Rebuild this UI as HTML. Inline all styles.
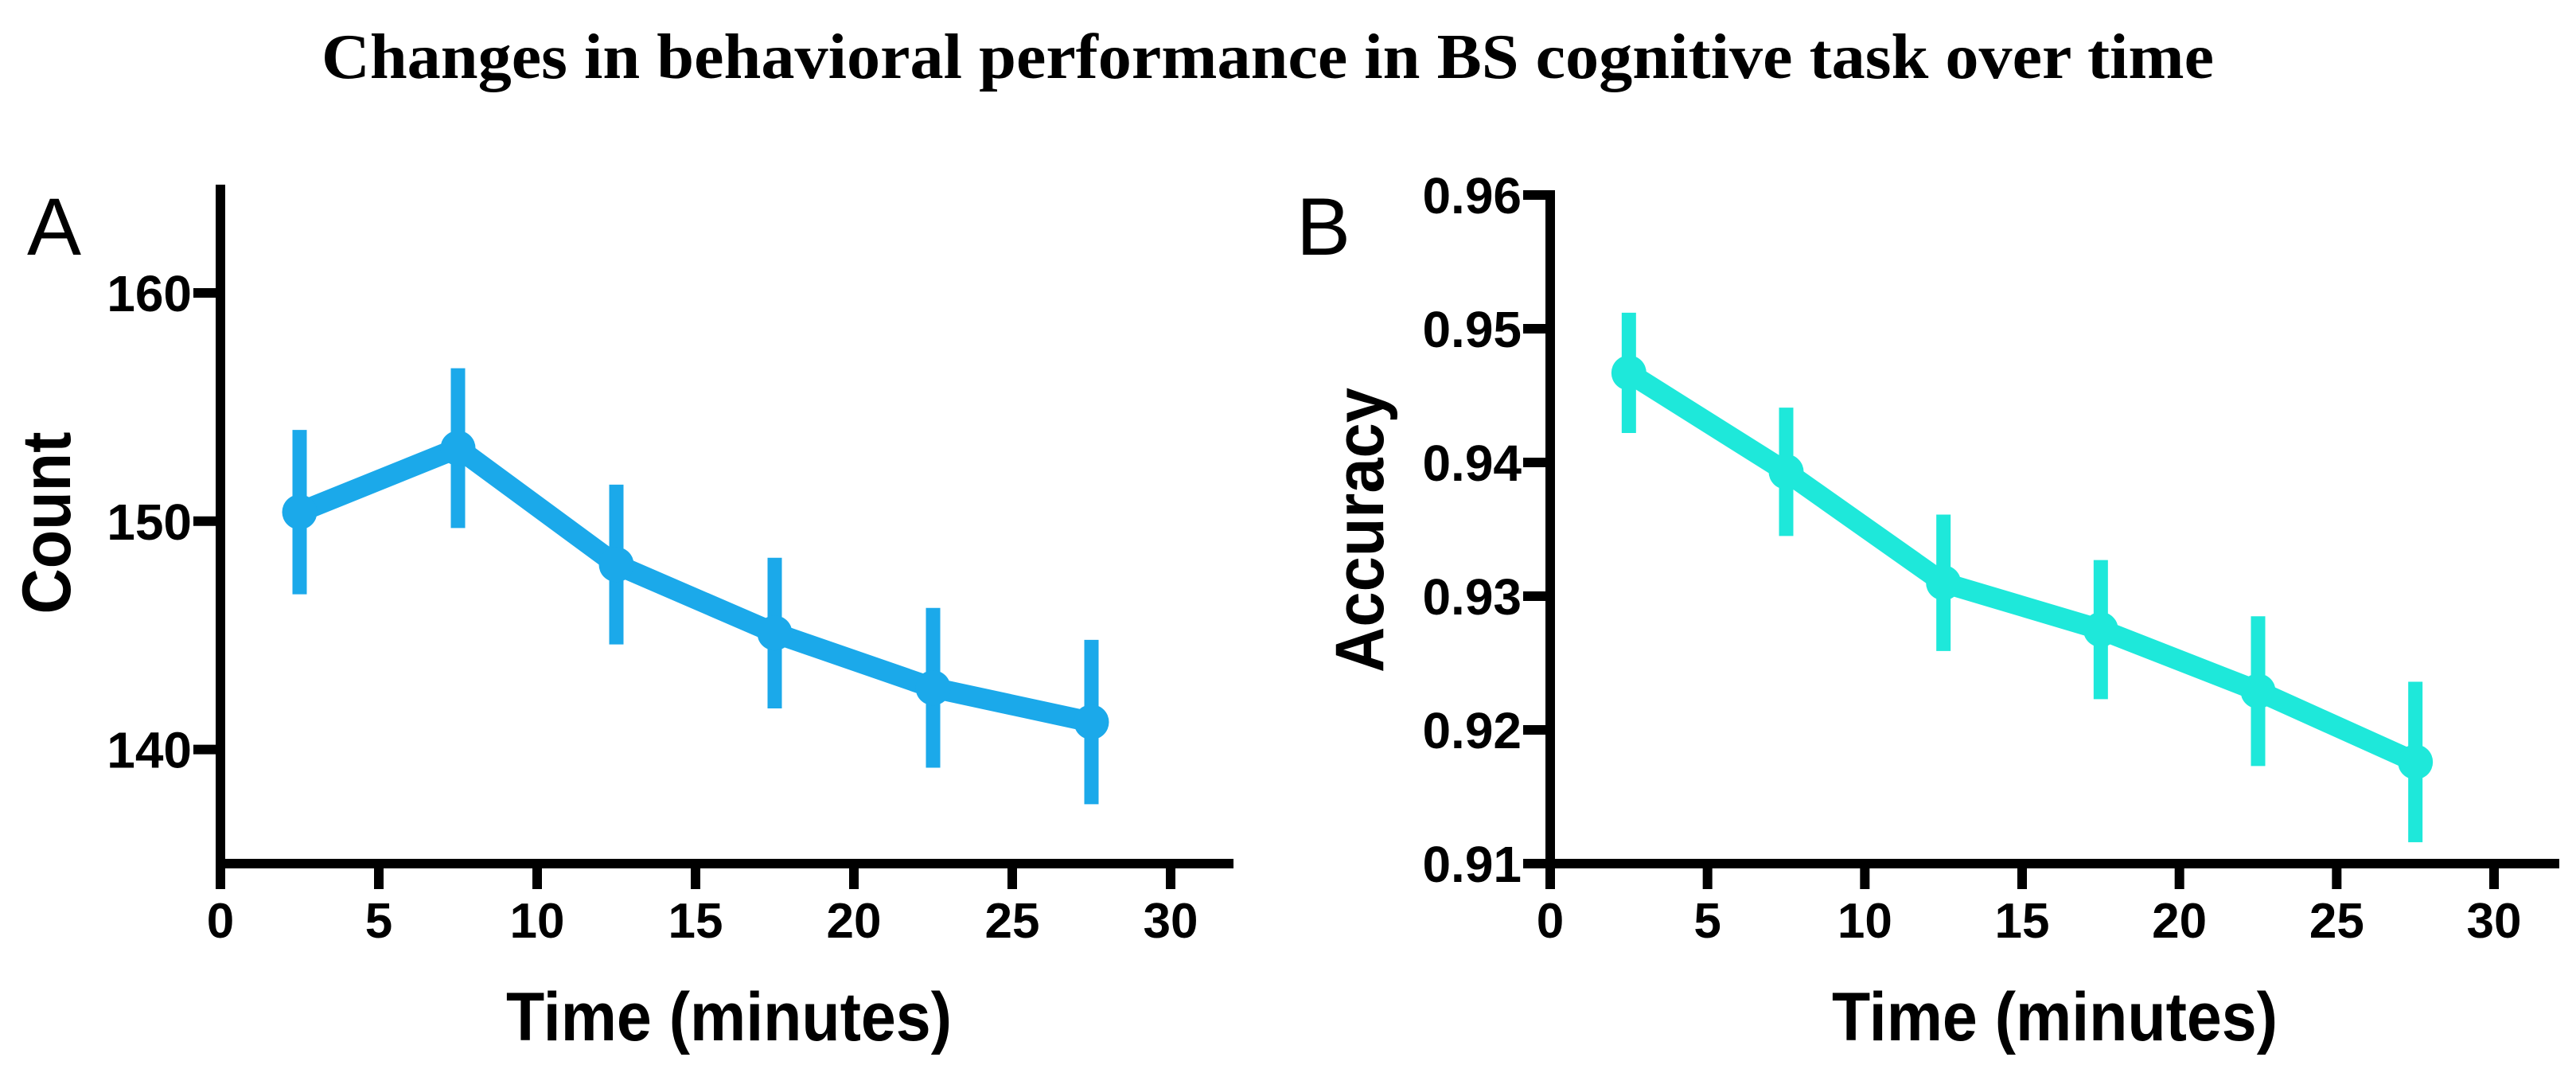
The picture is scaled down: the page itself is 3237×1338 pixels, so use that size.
<!DOCTYPE html>
<html><head><meta charset="utf-8"><style>
html,body{margin:0;padding:0;background:#fff;}
svg{display:block;}
text{font-family:"Liberation Sans",Arial,sans-serif;}
</style></head><body>
<svg id="fig" width="3237" height="1338" viewBox="0 0 3237 1338" xmlns="http://www.w3.org/2000/svg">
<text x="404" y="98" font-family="Liberation Serif, serif" style="font-family:'Liberation Serif',serif" font-weight="bold" font-size="80" textLength="2378" lengthAdjust="spacingAndGlyphs">Changes in behavioral performance in BS cognitive task over time</text>
<g id="panelA"></g>
<g id="panelB"></g>
</svg>
<script>
const timePoints = [2.5, 7.5, 12.5, 17.5, 22.5, 27.5];
const countMeans = [150.4, 153.2, 148.1, 145.1, 142.7, 141.2];
const countErr = [3.6, 3.5, 3.5, 3.3, 3.5, 3.6];
const accMeans = [0.9467, 0.9393, 0.9310, 0.9275, 0.9229, 0.9176];
const accErr = [0.0045, 0.0048, 0.0051, 0.0052, 0.0056, 0.0060];
const xTicks = [0, 5, 10, 15, 20, 25, 30];
const countTicks = [140, 150, 160];
const accTicks = [0.91, 0.92, 0.93, 0.94, 0.95, 0.96];
const accTickLabels = ["0.91", "0.92", "0.93", "0.94", "0.95", "0.96"];

const NS = "http://www.w3.org/2000/svg";
function mk(parent, tag, attrs, txt) {
  const e = document.createElementNS(NS, tag);
  for (const k in attrs) e.setAttribute(k, attrs[k]);
  if (txt !== undefined) e.textContent = txt;
  parent.appendChild(e);
  return e;
}

function drawPanel(g, cfg) {
  const xs = v => cfg.x0 + (v - 0) / 30 * (cfg.x30 - cfg.x0);
  const ys = v => cfg.yBot + (v - cfg.vBot) / (cfg.vRef - cfg.vBot) * (cfg.yRef - cfg.yBot);
  const ya = mk(g, "line", {x1: cfg.x0, y1: cfg.yTop, x2: cfg.x0, y2: cfg.yBot + 6, stroke: "#000", "stroke-width": 12});
  
  
  const xa = mk(g, "line", {x1: cfg.x0 - 6, y1: cfg.yBot, x2: cfg.xEnd, y2: cfg.yBot, stroke: "#000", "stroke-width": 12});
  
  
  xTicks.forEach(t => {
    const x = xs(t);
    const tk = mk(g, "line", {x1: x, y1: cfg.yBot, x2: x, y2: cfg.yBot + 32, stroke: "#000", "stroke-width": 12});
    
    
    const tl = mk(g, "text", {x: x, y: cfg.yBot + 93, "text-anchor": "middle", "font-size": 62, "font-weight": "bold"}, String(t));
    
    
  });
  cfg.yTicks.forEach((t, i) => {
    const y = ys(t);
    const tk = mk(g, "line", {x1: cfg.x0 - 34, y1: y, x2: cfg.x0, y2: y, stroke: "#000", "stroke-width": 12});
    
    
    const tl = mk(g, "text", {x: cfg.x0 - 36, y: y + 23, "text-anchor": "end", "font-size": 64, "font-weight": "bold"}, cfg.yLabels[i]);
    
    
  });
  timePoints.forEach((t, i) => {
    const x = xs(t);
    const eb = mk(g, "line", {x1: x, y1: ys(cfg.means[i] + cfg.err[i]), x2: x, y2: ys(cfg.means[i] - cfg.err[i]), stroke: cfg.color, "stroke-width": 18});
    
    
  });
  const pts = timePoints.map((t, i) => xs(t) + "," + ys(cfg.means[i])).join(" ");
  const pl = mk(g, "polyline", {points: pts, fill: "none", stroke: cfg.color, "stroke-width": 26, "stroke-linejoin": "round"});
  
  
  timePoints.forEach((t, i) => {
    const c = mk(g, "circle", {cx: xs(t), cy: ys(cfg.means[i]), r: 22, fill: cfg.color});
    
    
  });
  const xt = mk(g, "text", {x: cfg.xTitleX, y: 1307, "text-anchor": "middle", "font-size": 86, "font-weight": "bold", textLength: 560, lengthAdjust: "spacingAndGlyphs"}, "Time (minutes)");
  
  
  const yt = mk(g, "text", {x: 0, y: 0, "text-anchor": "middle", "font-size": 86, "font-weight": "bold", textLength: cfg.yTitleLen, lengthAdjust: "spacingAndGlyphs", transform: "translate(" + cfg.yTitleX + "," + cfg.yTitleY + ") rotate(-90)"}, cfg.yTitle);
  
  
  const pl2 = mk(g, "text", {x: cfg.letterX, y: cfg.letterY, "font-size": 102}, cfg.letter);
  
  
}

drawPanel(document.getElementById("panelA"), {
  x0: 277, x30: 1471, xEnd: 1550, yTop: 232, yBot: 1085, vBot: 135, vRef: 160, yRef: 368,
  yTicks: countTicks, yLabels: countTicks.map(String), means: countMeans, err: countErr,
  color: "#1ba9ea", xTitleX: 916, yTitle: "Count", yTitleX: 88, yTitleY: 657, yTitleLen: 229,
  letter: "A", letterX: 34, letterY: 320
});
drawPanel(document.getElementById("panelB"), {
  x0: 1948, x30: 3134, xEnd: 3216, yTop: 239, yBot: 1085, vBot: 0.91, vRef: 0.96, yRef: 245,
  yTicks: accTicks, yLabels: accTickLabels, means: accMeans, err: accErr,
  color: "#1ee8da", xTitleX: 2582, yTitle: "Accuracy", yTitleX: 1738, yTitleY: 666, yTitleLen: 358,
  letter: "B", letterX: 1629, letterY: 320
});
</script>
</body></html>
